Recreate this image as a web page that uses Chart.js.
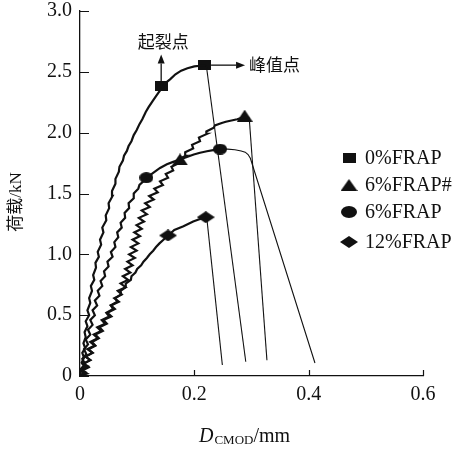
<!DOCTYPE html>
<html>
<head>
<meta charset="utf-8">
<script src="https://cdn.jsdelivr.net/npm/chart.js@4.4.0/dist/chart.umd.min.js"></script>
<style>
  html, body { margin: 0; padding: 0; background: #fff; }
  #wrap { width: 457px; height: 449px; }
</style>
</head>
<body>
<div id="wrap"><canvas id="chart" width="457" height="449"></canvas></div>
<script>
// tick labels
const xTickLabels = ['0', '0.2', '0.4', '0.6'];
const yTickLabels = ['0', '0.5', '1.0', '1.5', '2.0', '2.5', '3.0'];
const legendLabels = ['0%FRAP', '6%FRAP#', '6%FRAP', '12%FRAP'];

// 0%FRAP, rising part (D_CMOD mm / load kN)
const frap0X = [0.000, 0.006, 0.001, 0.008, 0.003, 0.007, 0.004, 0.009, 0.006, 0.010, 0.008, 0.013, 0.010, 0.016, 0.013, 0.018,
  0.016, 0.021, 0.019, 0.025, 0.023, 0.028, 0.027, 0.033, 0.031, 0.037, 0.035, 0.041, 0.039, 0.046, 0.045, 0.051, 0.050,
  0.057, 0.056, 0.062, 0.062, 0.068, 0.069, 0.075, 0.077, 0.082, 0.085, 0.090, 0.094, 0.099, 0.104, 0.109, 0.115, 0.120,
  0.127, 0.133, 0.142, 0.150, 0.158, 0.167, 0.177, 0.188, 0.200, 0.210, 0.219];
const frap0Y = [0.00, 0.02, 0.05, 0.08, 0.11, 0.15, 0.19, 0.23, 0.27, 0.32, 0.36, 0.41, 0.45, 0.50, 0.54, 0.60,
  0.64, 0.70, 0.74, 0.79, 0.83, 0.89, 0.93, 0.98, 1.02, 1.08, 1.12, 1.18, 1.22, 1.28, 1.32, 1.38, 1.42,
  1.48, 1.52, 1.58, 1.62, 1.68, 1.72, 1.77, 1.81, 1.85, 1.89, 1.93, 1.98, 2.02, 2.07, 2.11, 2.17, 2.21,
  2.26, 2.30, 2.36, 2.41, 2.44, 2.48, 2.51, 2.53, 2.545, 2.55, 2.55];
const frap0DropX = [0.221, 0.290];
const frap0DropY = [2.55, 0.117];
const frap0MarkX = [0.142, 0.217];
const frap0MarkY = [2.38, 2.555];

// 6%FRAP#
const frap6sX = [0.000, 0.010, 0.003, 0.014, 0.006, 0.018, 0.010, 0.022, 0.015, 0.027, 0.021, 0.033, 0.027, 0.040, 0.034,
  0.047, 0.041, 0.055, 0.048, 0.061, 0.054, 0.068, 0.060, 0.073, 0.066, 0.080, 0.071, 0.084, 0.075, 0.088, 0.079, 0.092,
  0.083, 0.096, 0.086, 0.099, 0.089, 0.102, 0.092, 0.105, 0.095, 0.108, 0.099, 0.112, 0.103, 0.117, 0.108, 0.122, 0.114,
  0.129, 0.121, 0.136, 0.130, 0.145, 0.140, 0.154, 0.150, 0.163, 0.160, 0.173, 0.172, 0.185, 0.184, 0.198, 0.196, 0.210,
  0.208, 0.222, 0.221, 0.234, 0.236, 0.248, 0.255, 0.265, 0.275, 0.288, 0.296];
const frap6sY = [0.00, 0.03, 0.05, 0.08, 0.10, 0.13, 0.16, 0.19, 0.22, 0.25, 0.28, 0.31, 0.34, 0.37, 0.40,
  0.43, 0.46, 0.49, 0.52, 0.55, 0.58, 0.61, 0.64, 0.67, 0.70, 0.73, 0.76, 0.79, 0.82, 0.85, 0.88, 0.91,
  0.94, 0.97, 1.00, 1.03, 1.06, 1.09, 1.12, 1.15, 1.18, 1.21, 1.24, 1.27, 1.30, 1.33, 1.36, 1.39, 1.42,
  1.45, 1.48, 1.51, 1.54, 1.57, 1.60, 1.63, 1.66, 1.69, 1.72, 1.75, 1.78, 1.81, 1.84, 1.87, 1.90, 1.93,
  1.96, 1.99, 2.01, 2.04, 2.06, 2.08, 2.09, 2.10, 2.11, 2.13, 2.12];
const frap6sDropX = [0.296, 0.327];
const frap6sDropY = [2.12, 0.13];
const frap6sMarkX = [0.175, 0.288];
const frap6sMarkY = [1.78, 2.14];

// 6%FRAP
const frap6X = [0.000, 0.007, 0.002, 0.009, 0.004, 0.011, 0.007, 0.014, 0.010, 0.018, 0.014, 0.022, 0.018, 0.026, 0.022,
  0.030, 0.026, 0.034, 0.031, 0.039, 0.036, 0.044, 0.042, 0.050, 0.048, 0.057, 0.054, 0.062, 0.060, 0.067, 0.065, 0.073,
  0.071, 0.079, 0.078, 0.086, 0.085, 0.094, 0.094, 0.102, 0.104, 0.111, 0.116, 0.128, 0.140, 0.152, 0.163, 0.175, 0.187,
  0.199, 0.210, 0.222, 0.233, 0.245];
const frap6Y = [0.00, 0.03, 0.06, 0.10, 0.14, 0.18, 0.22, 0.26, 0.30, 0.34, 0.38, 0.42, 0.46, 0.50, 0.54,
  0.58, 0.62, 0.66, 0.70, 0.74, 0.78, 0.82, 0.86, 0.90, 0.94, 0.98, 1.02, 1.06, 1.10, 1.14, 1.18, 1.22,
  1.26, 1.30, 1.34, 1.38, 1.42, 1.46, 1.50, 1.54, 1.57, 1.60, 1.63, 1.67, 1.71, 1.74, 1.76, 1.78, 1.80,
  1.82, 1.835, 1.847, 1.857, 1.865];
const frap6TailX = [0.245, 0.258, 0.271, 0.282, 0.289, 0.294, 0.298, 0.411];
const frap6TailY = [1.865, 1.865, 1.86, 1.85, 1.84, 1.82, 1.79, 0.107];
const frap6MarkX = [0.116, 0.245];
const frap6MarkY = [1.63, 1.865];

// 12%FRAP
const frap12X = [0.000, 0.012, 0.002, 0.015, 0.005, 0.018, 0.009, 0.022, 0.013, 0.026, 0.018, 0.031, 0.024, 0.037, 0.030,
  0.044, 0.038, 0.051, 0.046, 0.058, 0.054, 0.065, 0.062, 0.072, 0.071, 0.080, 0.080, 0.089, 0.090, 0.097, 0.100, 0.107,
  0.111, 0.117, 0.122, 0.128, 0.133, 0.139, 0.146, 0.154, 0.165, 0.181, 0.198, 0.210, 0.220];
const frap12Y = [0.00, 0.02, 0.04, 0.07, 0.10, 0.13, 0.16, 0.19, 0.22, 0.25, 0.28, 0.31, 0.34, 0.37, 0.40,
  0.43, 0.46, 0.49, 0.52, 0.55, 0.58, 0.61, 0.64, 0.67, 0.70, 0.73, 0.76, 0.79, 0.82, 0.85, 0.88, 0.91,
  0.94, 0.97, 1.00, 1.03, 1.06, 1.09, 1.12, 1.155, 1.20, 1.23, 1.27, 1.29, 1.305];
const frap12DropX = [0.222, 0.249];
const frap12DropY = [1.29, 0.09];
const frap12MarkX = [0.154, 0.220];
const frap12MarkY = [1.155, 1.305];

const INK = '#111';
const SERIF = "'Liberation Serif', 'Times New Roman', serif";
const CJK = "'Noto Sans CJK SC', sans-serif";

function pts(xs, ys) {
  return xs.map((x, i) => ({ x: x, y: ys[i] }));
}

// marker shapes are a bit wider than tall in the reference
function marker(shape, w, h) {
  const c = document.createElement('canvas');
  c.width = w;
  c.height = h;
  const g = c.getContext('2d');
  g.fillStyle = INK;
  g.beginPath();
  if (shape === 'square') {
    g.rect(0, 0, w, h);
  } else if (shape === 'triangle') {
    g.moveTo(w / 2, 0); g.lineTo(w, h); g.lineTo(0, h); g.closePath();
  } else if (shape === 'circle') {
    g.ellipse(w / 2, h / 2, w / 2, h / 2, 0, 0, Math.PI * 2);
  } else {
    g.moveTo(w / 2, 0); g.lineTo(w, h / 2); g.lineTo(w / 2, h); g.lineTo(0, h / 2); g.closePath();
  }
  g.fill();
  return c;
}

const mkSquare = marker('square', 13, 10);
const mkTriangle = marker('triangle', 16, 12);
const mkCircle = marker('circle', 14, 11);
const mkDiamond = marker('diamond', 18, 12);
const legendMarks = [marker('square', 13, 10), marker('triangle', 17, 12), marker('circle', 16, 12), marker('diamond', 18, 12)];

function curve(data, width) {
  return { type: 'scatter', data: data, showLine: true, borderColor: INK, borderWidth: width,
    pointRadius: 0, pointHoverRadius: 0, tension: 0 };
}
function marks(data, img) {
  return { type: 'scatter', data: data, showLine: false, pointStyle: img, pointRadius: 6,
    pointHoverRadius: 6, backgroundColor: INK, borderColor: INK };
}

function arrow(ctx, x1, y1, x2, y2) {
  const a = Math.atan2(y2 - y1, x2 - x1);
  const L = 9, W = 3.5;
  ctx.beginPath();
  ctx.moveTo(x1, y1);
  ctx.lineTo(x2 - Math.cos(a) * L, y2 - Math.sin(a) * L);
  ctx.stroke();
  ctx.beginPath();
  ctx.moveTo(x2, y2);
  ctx.lineTo(x2 - Math.cos(a) * L - Math.sin(a) * W, y2 - Math.sin(a) * L + Math.cos(a) * W);
  ctx.lineTo(x2 - Math.cos(a) * L + Math.sin(a) * W, y2 - Math.sin(a) * L - Math.cos(a) * W);
  ctx.closePath();
  ctx.fill();
}

const extras = {
  id: 'extras',
  afterDraw(chart) {
    const ctx = chart.ctx;
    const xs = chart.scales.x, ys = chart.scales.y;
    const area = chart.chartArea;
    ctx.save();
    ctx.strokeStyle = INK;
    ctx.fillStyle = INK;
    ctx.lineWidth = 1.2;

    // inward tick marks
    ctx.beginPath();
    xs.ticks.forEach(t => {
      const px = Math.round(xs.getPixelForValue(t.value)) + 0.5;
      ctx.moveTo(px, area.bottom); ctx.lineTo(px, area.bottom - 6);
    });
    ys.ticks.forEach(t => {
      const py = Math.round(ys.getPixelForValue(t.value)) + 0.5;
      ctx.moveTo(area.left, py); ctx.lineTo(area.left + 9, py);
    });
    ctx.stroke();

    // crack-initiation / peak arrows
    const cx = xs.getPixelForValue(frap0MarkX[0]), cy = ys.getPixelForValue(frap0MarkY[0]);
    const px = xs.getPixelForValue(frap0MarkX[1]), py = ys.getPixelForValue(frap0MarkY[1]);
    ctx.lineWidth = 1.3;
    arrow(ctx, cx, cy - 5, cx, cy - 32);
    arrow(ctx, px + 7, py, px + 41, py);
    ctx.font = '17px ' + CJK;
    ctx.textBaseline = 'middle';
    ctx.textAlign = 'center';
    ctx.fillText('起裂点', cx + 2, cy - 45);
    ctx.textAlign = 'left';
    ctx.fillText('峰值点', px + 45, py - 1);

    // legend
    const lx = 349, ly = [158, 185, 212, 242];
    ctx.font = '20px ' + SERIF;
    legendLabels.forEach((lab, i) => {
      const img = legendMarks[i];
      ctx.drawImage(img, lx - img.width / 2, ly[i] - img.height / 2);
      ctx.fillText(lab, 365, ly[i] + 1);
    });

    // y title
    ctx.save();
    ctx.translate(17, 202);
    ctx.rotate(-Math.PI / 2);
    ctx.textAlign = 'center';
    ctx.font = '17px ' + SERIF + ", 'Noto Sans CJK SC'";
    ctx.fillText('荷载/kN', 0, 0);
    ctx.restore();

    // x title: D_CMOD/mm
    ctx.textBaseline = 'alphabetic';
    ctx.textAlign = 'left';
    let tx = 199;
    const base = 442;
    ctx.font = 'italic 20px ' + SERIF;
    ctx.fillText('D', tx, base);
    tx += ctx.measureText('D').width + 1;
    ctx.font = '13px ' + SERIF;
    ctx.fillText('CMOD', tx, base + 2);
    tx += ctx.measureText('CMOD').width;
    ctx.font = '20px ' + SERIF;
    ctx.fillText('/mm', tx, base);
    ctx.restore();
  }
};

new Chart(document.getElementById('chart'), {
  type: 'scatter',
  data: {
    datasets: [
      curve(pts(frap0X, frap0Y), 2.2),
      curve(pts(frap0DropX, frap0DropY), 1.1),
      curve(pts(frap6sX, frap6sY), 2.2),
      curve(pts(frap6sDropX, frap6sDropY), 1.1),
      curve(pts(frap6X, frap6Y), 2.2),
      curve(pts(frap6TailX, frap6TailY), 1.1),
      curve(pts(frap12X, frap12Y), 2.2),
      curve(pts(frap12DropX, frap12DropY), 1.1),
      marks(pts(frap0MarkX, frap0MarkY), mkSquare),
      marks(pts(frap6sMarkX, frap6sMarkY), mkTriangle),
      marks(pts(frap6MarkX, frap6MarkY), mkCircle),
      marks(pts(frap12MarkX, frap12MarkY), mkDiamond)
    ]
  },
  options: {
    responsive: false,
    devicePixelRatio: 1,
    animation: false,
    events: [],
    layout: { padding: { top: 11, right: 34, left: 0, bottom: 0 } },
    plugins: { legend: { display: false }, tooltip: { enabled: false } },
    scales: {
      x: {
        type: 'linear',
        min: 0,
        max: 0.6,
        afterFit: (scale) => { scale.height = 73; scale.paddingLeft = 0; scale.paddingRight = 0; },
        grid: { display: false, drawTicks: false },
        border: { display: true, color: INK, width: 1.3 },
        ticks: {
          stepSize: 0.2,
          padding: 7,
          maxRotation: 0,
          color: INK,
          font: { family: SERIF, size: 20 },
          callback: (val) => xTickLabels[Math.round(val / 0.2)]
        }
      },
      y: {
        type: 'linear',
        min: 0,
        max: 3,
        afterFit: (scale) => { scale.width = 80; scale.paddingTop = 0; scale.paddingBottom = 0; },
        grid: { display: false, drawTicks: false },
        border: { display: true, color: INK, width: 1.3 },
        ticks: {
          stepSize: 0.5,
          padding: 8,
          color: INK,
          font: { family: SERIF, size: 20 },
          callback: (val) => yTickLabels[Math.round(val / 0.5)]
        }
      }
    }
  },
  plugins: [extras]
});
</script>
</body>
</html>
